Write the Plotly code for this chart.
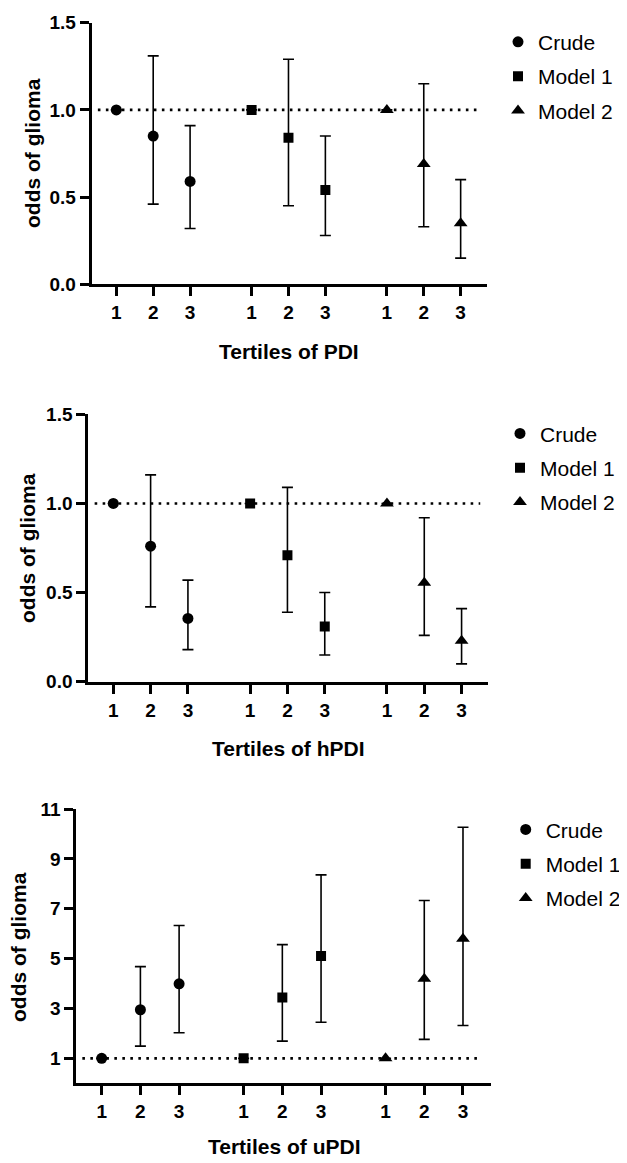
import plotly.graph_objects as go

# ---------------- data ----------------
tiers = ["1", "2", "3"]
models = ["Crude", "Model 1", "Model 2"]
symbols = ["circle", "square", "triangle-up"]
ref_value = 1.0

# PDI
pdi_crude_or = [1.0, 0.85, 0.59]
pdi_crude_lo = [1.0, 0.46, 0.32]
pdi_crude_hi = [1.0, 1.31, 0.91]
pdi_m1_or = [1.0, 0.84, 0.54]
pdi_m1_lo = [1.0, 0.45, 0.28]
pdi_m1_hi = [1.0, 1.29, 0.85]
pdi_m2_or = [1.0, 0.69, 0.35]
pdi_m2_lo = [1.0, 0.33, 0.15]
pdi_m2_hi = [1.0, 1.15, 0.60]

# hPDI
hpdi_crude_or = [1.0, 0.76, 0.355]
hpdi_crude_lo = [1.0, 0.42, 0.18]
hpdi_crude_hi = [1.0, 1.16, 0.57]
hpdi_m1_or = [1.0, 0.71, 0.31]
hpdi_m1_lo = [1.0, 0.39, 0.15]
hpdi_m1_hi = [1.0, 1.09, 0.50]
hpdi_m2_or = [1.0, 0.555, 0.23]
hpdi_m2_lo = [1.0, 0.26, 0.10]
hpdi_m2_hi = [1.0, 0.92, 0.41]

# uPDI
updi_crude_or = [1.0, 2.95, 3.99]
updi_crude_lo = [1.0, 1.49, 2.03]
updi_crude_hi = [1.0, 4.68, 6.33]
updi_m1_or = [1.0, 3.44, 5.10]
updi_m1_lo = [1.0, 1.69, 2.45]
updi_m1_hi = [1.0, 5.56, 8.36]
updi_m2_or = [1.0, 4.19, 5.80]
updi_m2_lo = [1.0, 1.76, 2.32]
updi_m2_hi = [1.0, 7.33, 10.27]

# ---------------- layout helpers ----------------
PAGE_W, PAGE_H = 627, 1163
BODY_MARGIN = 8          # default HTML body margin around the plot div
W, H = PAGE_W - BODY_MARGIN, PAGE_H - BODY_MARGIN
GROUP_GAP = 0.667
FONT = "Liberation Sans, Arial, Helvetica, sans-serif"


def px_x(p):
    return (p - BODY_MARGIN) / W


def px_y(p):
    return 1 - (p - BODY_MARGIN) / H


positions = [g * (3 + GROUP_GAP) + t for g in range(3) for t in range(3)]

panels = [
    dict(title="Tertiles of PDI",
         series=[(pdi_crude_or, pdi_crude_lo, pdi_crude_hi),
                 (pdi_m1_or, pdi_m1_lo, pdi_m1_hi),
                 (pdi_m2_or, pdi_m2_lo, pdi_m2_hi)],
         xpx=(91.7, 486.7), ypx=(22.7, 284.3), xr=[-0.667, 10.04],
         yr=[0, 1.5], yticks=[0, 0.5, 1.0, 1.5], yfmt=".1f",
         ytitle=(33, 153), xtitle=(289, 351), legend=(498, 21.7)),
    dict(title="Tertiles of hPDI",
         series=[(hpdi_crude_or, hpdi_crude_lo, hpdi_crude_hi),
                 (hpdi_m1_or, hpdi_m1_lo, hpdi_m1_hi),
                 (hpdi_m2_or, hpdi_m2_lo, hpdi_m2_hi)],
         xpx=(88.3, 488.3), ypx=(414.3, 681.7), xr=[-0.67, 10.05],
         yr=[0, 1.5], yticks=[0, 0.5, 1.0, 1.5], yfmt=".1f",
         ytitle=(28, 548), xtitle=(288, 748), legend=(500, 413.3)),
    dict(title="Tertiles of uPDI",
         series=[(updi_crude_or, updi_crude_lo, updi_crude_hi),
                 (updi_m1_or, updi_m1_lo, updi_m1_hi),
                 (updi_m2_or, updi_m2_lo, updi_m2_hi)],
         xpx=(76.3, 490.7), ypx=(809, 1083.3), xr=[-0.656, 10.05],
         yr=[0, 11], yticks=[1, 3, 5, 7, 9, 11], yfmt="d",
         ytitle=(18, 947), xtitle=(284, 1146), legend=(505.7, 809.3)),
]

fig = go.Figure()
annotations = []
shapes = []

for i, p in enumerate(panels):
    n = "" if i == 0 else str(i + 1)
    xa, ya = "x" + n, "y" + n
    leg = "legend" + n
    for m, (name, sym) in enumerate(zip(models, symbols)):
        o, lo, hi = p["series"][m]
        xs = positions[m * 3:(m + 1) * 3]
        fig.add_trace(go.Scatter(
            x=xs, y=o, mode="markers", name=name,
            xaxis=xa, yaxis=ya, legend=leg, legendgroup=f"{i}-{m}",
            marker=dict(symbol=sym, color="black",
                        size={"circle": 11, "square": 10, "triangle-up": 12}[sym]),
            error_y=dict(type="data", symmetric=False,
                         array=[h - v for h, v in zip(hi, o)],
                         arrayminus=[v - l for v, l in zip(o, lo)],
                         color="black", thickness=1.6, width=5.5),
            hoverinfo="skip",
        ))
    axis_common = dict(showline=True, linecolor="black", linewidth=3,
                       ticks="outside", ticklen=9, tickwidth=3, tickcolor="black",
                       showgrid=False, zeroline=False, automargin=False,
                       tickfont=dict(family=FONT, size=19, color="black", weight="bold"))
    fig.update_layout(**{
        ("xaxis" + n): dict(domain=[px_x(p["xpx"][0]), px_x(p["xpx"][1])],
                            range=p["xr"], anchor=ya, tickvals=positions,
                            ticktext=tiers * 3, **axis_common),
        ("yaxis" + n): dict(domain=[px_y(p["ypx"][1]), px_y(p["ypx"][0])],
                            range=p["yr"], anchor=xa, tickvals=p["yticks"],
                            tickformat=p["yfmt"], **axis_common),
        leg: dict(x=px_x(p["legend"][0]), y=px_y(p["legend"][1]),
                  xanchor="left", yanchor="top", bgcolor="rgba(0,0,0,0)",
                  borderwidth=0,
                  font=dict(family=FONT, size=21, color="black"),
                  tracegroupgap=4, itemwidth=30),
    })
    shapes.append(dict(type="line", xref=xa, yref=ya, layer="below",
                       x0=positions[0] - 0.5, x1=positions[-1] + 0.5,
                       y0=ref_value, y1=ref_value,
                       line=dict(color="black", width=2.6, dash="2.6px,5.4px")))
    annotations.append(dict(text=p["title"], xref="paper", yref="paper",
                            x=px_x(p["xtitle"][0]), y=px_y(p["xtitle"][1]),
                            xanchor="center", yanchor="middle", showarrow=False,
                            font=dict(family=FONT, size=21, color="black", weight="bold")))
    annotations.append(dict(text="odds of glioma", xref="paper", yref="paper",
                            x=px_x(p["ytitle"][0]), y=px_y(p["ytitle"][1]),
                            xanchor="center", yanchor="middle", showarrow=False,
                            textangle=-90,
                            font=dict(family=FONT, size=21, color="black", weight="bold")))

fig.update_layout(template="none", width=W, height=H,
                  margin=dict(l=0, r=0, t=0, b=0, pad=0, autoexpand=False),
                  plot_bgcolor="white", paper_bgcolor="white",
                  annotations=annotations, shapes=shapes,
                  font=dict(family=FONT, color="black"))

fig.write_html("out.html")
